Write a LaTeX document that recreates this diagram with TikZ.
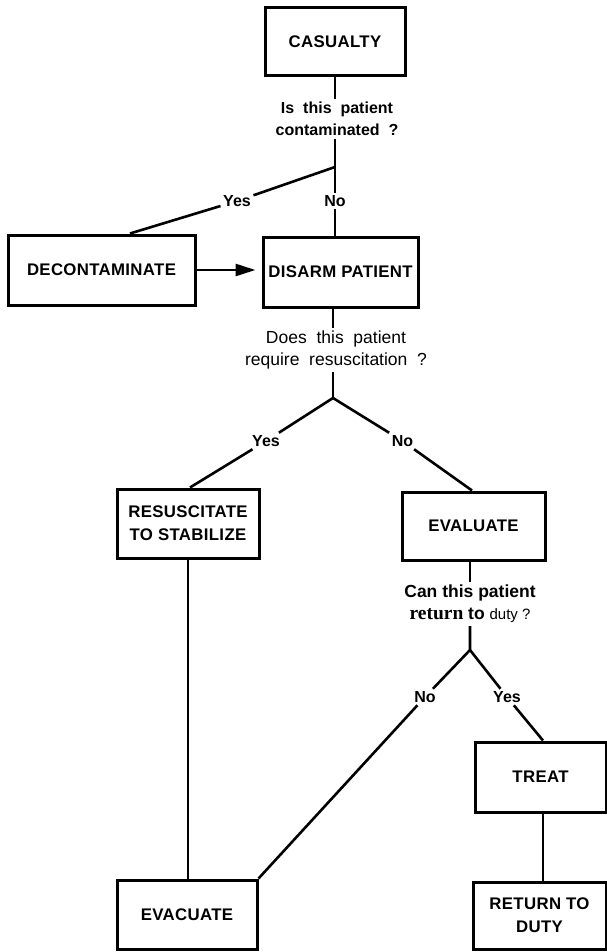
\documentclass[tikz,border=0pt]{standalone}
\usepackage{fontspec}
\setmainfont{Liberation Sans}
\newfontfamily\capsfont{Liberation Sans}[LetterSpace=2.0]
\newfontfamily\serifbf{Liberation Serif}
\usetikzlibrary{arrows.meta}
\newcommand\boxfont{\capsfont\bfseries\fontsize{16.8}{23}\selectfont}
\newcommand\labfont{\bfseries\fontsize{16}{18}\selectfont}
\newcommand\qonefont{\bfseries\fontsize{16}{22}\selectfont}
\newcommand\qtwofont{\fontsize{17.5}{22}\selectfont}
\newcommand\qthreefont{\bfseries\fontsize{17.5}{22}\selectfont}
\begin{document}
\begin{tikzpicture}[x=1pt,y=-1pt,
  box/.style={draw, line width=3pt, inner sep=0pt, align=center, font=\boxfont},
  ques/.style={align=center, inner sep=3pt},
  lab/.style={font=\labfont, inner sep=2.5pt},
  conn/.style={line width=2.6pt}]
\useasboundingbox (0,0) rectangle (607,952);
% boxes
\node[box, minimum width=140, minimum height=68] (cas) at (335,41.5) {CASUALTY};
\node[box, minimum width=187, minimum height=70] (decon) at (101.5,270) {DECONTAMINATE};
\node[box, minimum width=155, minimum height=70] (disarm) at (340.5,272) {DISARM PATIENT};
\node[box, minimum width=142, minimum height=69] (resus) at (188,523.5) {RESUSCITATE\\TO STABILIZE};
\node[box, minimum width=143, minimum height=68] (eval) at (473.5,526) {EVALUATE};
\node[box, minimum width=131, minimum height=70] (treat) at (540.5,777) {TREAT};
\node[box, minimum width=133, minimum height=67] (rtd) at (539.5,915.5) {RETURN TO\\DUTY};
\node[box, minimum width=140, minimum height=69] (evac) at (187,914.5) {EVACUATE};
% questions
\node[ques, font=\qonefont] (q1) at (337,119) {Is\ \ this\ \ patient\\contaminated\ \ ?};
\node[ques, font=\qtwofont] (q2) at (336,350) {Does\ \ this\ \ patient\\require\ \ resuscitation\ \ ?};
\node[ques, font=\qthreefont] (q3) at (470,604) {Can this patient\\{\serifbf\bfseries\fontsize{19.5}{22}\selectfont return} to {\mdseries\fontsize{15}{22}\selectfont duty ?}};
% junctions
\coordinate (j1) at (335,167);
\coordinate (j2) at (333,398);
\coordinate (j3) at (470,650);
% labels
\node[lab] (yes1) at (237,201) {Yes};
\node[lab] (no1) at (335,201) {No};
\node[lab] (yes2) at (266,441) {Yes};
\node[lab] (no2) at (402.5,441) {No};
\node[lab] (no3) at (425,697) {No};
\node[lab] (yes3) at (507,697) {Yes};
% connectors
\draw[conn] (cas.south) -- (cas.south |- q1.north);
\draw[conn] (q1.south -| j1) -- (j1) -- (no1);
\draw[conn] (j1) -- (yes1);
\draw[conn] (yes1) -- ([xshift=28.5pt]decon.north);
\draw[conn] (no1) -- (no1 |- disarm.north);
\draw[conn, -{Triangle[length=20pt,width=12pt]}, shorten >=6pt] (decon.east) -- (decon.east -| disarm.west);
\draw[conn] (disarm.south -| j2) -- (j2 |- q2.north);
\draw[conn] (q2.south -| j2) -- (j2);
\draw[conn] (j2) -- (yes2);
\draw[conn] (yes2) -- ([xshift=2pt]resus.north);
\draw[conn] (j2) -- (no2);
\draw[conn] (no2) -- ([xshift=-1.5pt]eval.north);
\draw[conn] (resus.south) -- (resus.south |- evac.north);
\draw[conn] (eval.south -| j3) -- (j3 |- q3.north);
\draw[conn] (q3.south -| j3) -- (j3) -- (no3);
\draw[conn] (no3) -- (evac.north east);
\draw[conn] (j3) -- (yes3);
\draw[conn] (yes3) -- ([xshift=2.5pt]treat.north);
\draw[conn] ([xshift=2.5pt]treat.south) -- ([xshift=3.5pt]rtd.north);
\end{tikzpicture}
\end{document}
